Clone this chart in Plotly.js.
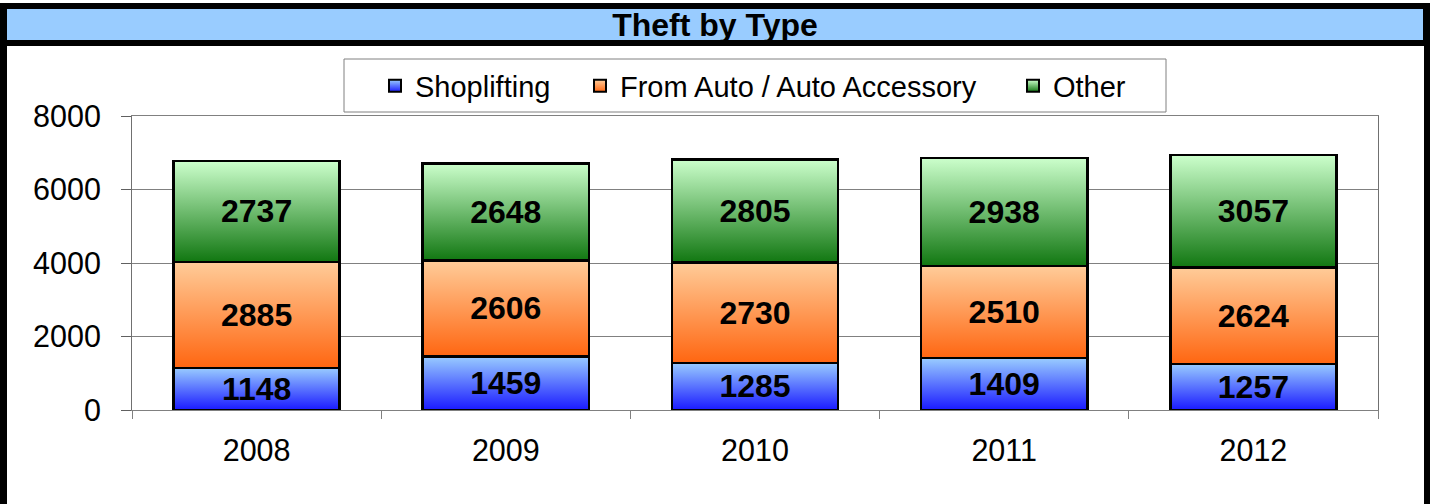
<!DOCTYPE html>
<html>
<head>
<meta charset="utf-8">
<script src="https://cdn.plot.ly/plotly-3.0.1.min.js"></script>
<style>
  html, body { margin: 0; padding: 0; background: #ffffff; }
  #chart { width: 1430px; height: 504px; }
</style>
</head>
<body>
<div id="chart"></div>
<script>
// ---- data ----
const years = ['2008', '2009', '2010', '2011', '2012'];
const shoplifting = [1148, 1459, 1285, 1409, 1257];
const fromAuto = [2885, 2606, 2730, 2510, 2624];
const other = [2737, 2648, 2805, 2938, 3057];
const seriesNames = ['Shoplifting', 'From Auto / Auto Accessory', 'Other'];
const chartTitle = 'Theft by Type';
const yTicks = [0, 2000, 4000, 6000, 8000];

// ---- geometry helpers (pixel -> paper) ----
const W = 1430, H = 504;
const M = { l: 132, r: 52, t: 116, b: 94 };
const PW = W - M.l - M.r, PH = H - M.t - M.b;
const px = x => (x - M.l) / PW;
const py = y => (H - M.b - y) / PH;

const FONT = '"Liberation Sans", Arial, sans-serif';

function barTrace(name, vals, color, legendId) {
  return {
    type: 'bar', name: name, x: years, y: vals,
    legend: legendId,
    marker: { color: color, line: { color: '#000000', width: 2.5 } },
    texttemplate: '%{y}', textposition: 'inside', insidetextanchor: 'middle',
    constraintext: 'none',
    textfont: { family: FONT, size: 32, color: '#000000', weight: 'bold' },
    hoverinfo: 'skip'
  };
}

const traces = [
  barTrace(seriesNames[0], shoplifting, '#5a7cff', 'legend'),
  barTrace(seriesNames[1], fromAuto, '#ff9955', 'legend2'),
  barTrace(seriesNames[2], other, '#55aa55', 'legend3')
];

function legendAt(xPix) {
  return {
    x: px(xPix), xanchor: 'left', y: py(86), yanchor: 'middle',
    orientation: 'h', bgcolor: 'rgba(0,0,0,0)', borderwidth: 0,
    font: { family: FONT, size: 29, color: '#000000' }
  };
}

const layout = {
  width: W, height: H,
  margin: M,
  paper_bgcolor: '#ffffff',
  plot_bgcolor: '#e0e0e0',
  barmode: 'stack',
  bargap: 0.333,
  showlegend: true,
  font: { family: FONT, size: 29, color: '#000000' },
  title: {
    text: '<b>' + chartTitle + '</b>',
    font: { family: FONT, size: 32, color: '#000000' },
    xref: 'container', x: 0.5, xanchor: 'center',
    yref: 'container', y: 1 - 25 / H, yanchor: 'middle'
  },
  legend: legendAt(375),
  legend2: legendAt(580),
  legend3: legendAt(1013),
  xaxis: {
    type: 'category',
    tickson: 'boundaries',
    ticks: 'outside', ticklen: 8, tickcolor: '#808080', tickwidth: 1,
    showline: true, linecolor: '#808080', linewidth: 1, mirror: true,
    showgrid: false,
    ticklabelstandoff: 13,
    tickfont: { family: FONT, size: 30.5, color: '#000000' }
  },
  yaxis: {
    range: [0, 8000],
    tickvals: yTicks,
    ticks: 'outside', ticklen: 10, tickcolor: '#606060', tickwidth: 1,
    showline: true, linecolor: '#707070', linewidth: 1, mirror: true,
    showgrid: true, gridcolor: '#808080', gridwidth: 1,
    zeroline: false,
    ticklabelstandoff: 14,
    tickfont: { family: FONT, size: 30.5, color: '#000000' }
  },
  shapes: [
    // outer black frame
    { type: 'rect', xref: 'paper', yref: 'paper', layer: 'below',
      x0: px(0), x1: px(1430), y0: py(520), y1: py(3),
      fillcolor: '#000000', line: { width: 0 } },
    // white body
    { type: 'rect', xref: 'paper', yref: 'paper', layer: 'below',
      x0: px(7), x1: px(1424), y0: py(520), y1: py(46),
      fillcolor: '#ffffff', line: { width: 0 } },
    // light blue title band
    { type: 'rect', xref: 'paper', yref: 'paper', layer: 'below',
      x0: px(7), x1: px(1423), y0: py(40), y1: py(9),
      fillcolor: '#99ccff', line: { width: 0 } },
    // legend box
    { type: 'rect', xref: 'paper', yref: 'paper', layer: 'below',
      x0: px(344), x1: px(1166), y0: py(112), y1: py(59),
      fillcolor: '#ffffff', line: { color: '#808080', width: 1 } }
  ]
};

const gradients = {
  gBlue: ['#99ccff', '#1a1aff'],
  gOrange: ['#ffcc99', '#ff6611'],
  gGreen: ['#ccffcc', '#117711'],
  gBg: ['#c0c0c0', '#ffffff']
};

function addGradients(gd) {
  const svg = gd.querySelector('svg.main-svg');
  const ns = 'http://www.w3.org/2000/svg';
  const defs = document.createElementNS(ns, 'defs');
  Object.keys(gradients).forEach(id => {
    const lg = document.createElementNS(ns, 'linearGradient');
    lg.setAttribute('id', id);
    lg.setAttribute('x1', '0'); lg.setAttribute('y1', '0');
    lg.setAttribute('x2', '0'); lg.setAttribute('y2', '1');
    gradients[id].forEach((c, i) => {
      const s = document.createElementNS(ns, 'stop');
      s.setAttribute('offset', i === 0 ? '0' : '1');
      s.setAttribute('stop-color', c);
      lg.appendChild(s);
    });
    defs.appendChild(lg);
  });
  svg.insertBefore(defs, svg.firstChild);
  const ids = ['gBlue', 'gOrange', 'gGreen'];
  gd.querySelectorAll('g.barlayer g.trace.bars').forEach((t, i) => {
    t.querySelectorAll('path').forEach(p => { p.style.fill = 'url(#' + ids[i] + ')'; });
  });
  ['legend', 'legend2', 'legend3'].forEach((lid, i) => {
    gd.querySelectorAll('g.' + lid + ' g.legendpoints path').forEach(p => {
      p.style.fill = 'url(#' + ids[i] + ')';
      p.style.stroke = '#000000';
      p.style.strokeWidth = '2px';
    });
  });
  const bg = gd.querySelector('g.bglayer rect.bg');
  if (bg) bg.style.fill = 'url(#gBg)';
}

const gd = document.getElementById('chart');
Plotly.newPlot(gd, traces, layout, { staticPlot: true, displayModeBar: false })
  .then(() => addGradients(gd));
</script>
</body>
</html>
